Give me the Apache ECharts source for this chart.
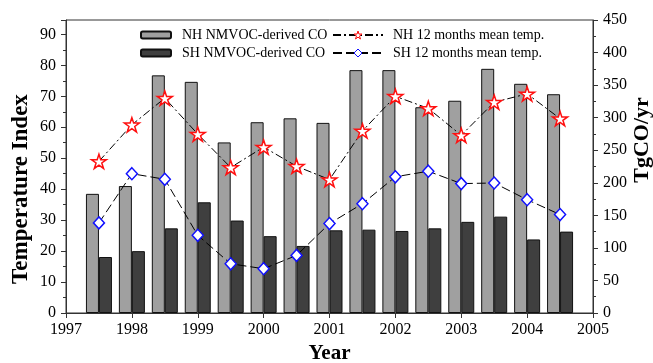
<!DOCTYPE html>
<html>
<head>
<meta charset="utf-8">
<script src="https://cdn.jsdelivr.net/npm/echarts@6/dist/echarts.min.js"></script>
<style>
html,body{margin:0;padding:0;background:#fff;}
#chart{width:653px;height:363px;}
</style>
</head>
<body>
<div id="chart"></div>
<script>
// Data
var years = [1997.5, 1998, 1998.5, 1999, 1999.5, 2000, 2000.5, 2001, 2001.5, 2002, 2002.5, 2003, 2003.5, 2004, 2004.5];
var nhCO = [183, 195, 365, 355, 262, 293, 299, 292, 373, 373, 316, 326, 375, 352, 336];
var shCO = [86, 95, 130, 170, 142, 118, 103, 127, 128, 126, 130, 140, 148, 113, 125];
var nhTemp = [49.0, 60.8, 69.4, 57.8, 47.0, 53.6, 47.4, 43.1, 58.8, 70.0, 66.1, 57.4, 68.1, 70.8, 62.8];
var shTemp = [29.1, 45.0, 43.2, 25.1, 15.9, 14.3, 18.6, 28.9, 35.3, 44.0, 45.8, 41.8, 42.0, 36.6, 31.8];
var seriesNames = ['NH NMVOC-derived CO', 'SH NMVOC-derived CO', 'NH 12 months mean temp.', 'SH 12 months mean temp.'];

function pairs(xs, ys) { return xs.map(function (x, i) { return [x, ys[i]]; }); }

var FONT = '"Liberation Serif", "Times New Roman", serif';
var AX = '#333';
var star = 'path://M50,0 L61.23,34.55 L97.55,34.55 L68.17,55.9 L79.39,90.45 L50,69.1 L20.61,90.45 L31.83,55.9 L2.45,34.55 L38.77,34.55 Z';

var chart = echarts.init(document.getElementById('chart'), null, {renderer: 'canvas'});
chart.setOption({
  animation: false,
  backgroundColor: '#fff',
  textStyle: {fontFamily: FONT},
  grid: {left: 66, right: 60, top: 20, bottom: 50, show: true, borderColor: AX, borderWidth: 1,
    backgroundColor: 'transparent', containLabel: false, outerBoundsMode: 'none'},
  legend: [{
    data: [seriesNames[0], seriesNames[1]],
    orient: 'vertical', left: 140, top: 28, padding: 0,
    itemWidth: 30, itemHeight: 7, itemGap: 4,
    textStyle: {fontFamily: FONT, fontSize: 14, color: '#000', padding: [0, 0, 0, 6]}
  }, {
    data: [
      {name: seriesNames[2], itemStyle: {color: '#fff', borderColor: '#ff1010', borderWidth: 1}},
      {name: seriesNames[3], itemStyle: {color: '#fff', borderColor: '#1010ff', borderWidth: 1}}
    ],
    orient: 'vertical', left: 332, top: 28, padding: 0,
    itemWidth: 50, itemHeight: 10, itemGap: 4,
    textStyle: {fontFamily: FONT, fontSize: 14, color: '#000', padding: [0, 0, 0, 5]}
  }],
  xAxis: {
    type: 'value', min: 1997, max: 2005, interval: 1,
    name: 'Year', nameLocation: 'middle', nameGap: 28,
    nameTextStyle: {fontFamily: FONT, fontSize: 21, fontWeight: 'bold', color: '#000'},
    axisLine: {show: true, lineStyle: {color: AX, width: 1}},
    axisTick: {show: true, length: 5, lineStyle: {color: AX}},
    axisLabel: {fontFamily: FONT, fontSize: 16, color: '#000', margin: 9,
      formatter: function (v) { return String(v); }},
    splitLine: {show: false}
  },
  yAxis: [{
    type: 'value', position: 'left', min: 0, max: 94.65, interval: 10,
    axisLine: {show: true, lineStyle: {color: AX, width: 1}},
    axisTick: {show: true, length: 5, lineStyle: {color: AX}},
    minorTick: {show: true, splitNumber: 2, length: 3, lineStyle: {color: AX}},
    axisLabel: {fontFamily: FONT, fontSize: 16, color: '#000', margin: 10,
      formatter: function (v) { return Math.abs(v % 10) < 1e-6 ? String(v) : ''; }},
    splitLine: {show: false}
  }, {
    type: 'value', position: 'right', min: 0, max: 450, interval: 50,
    axisLine: {show: true, lineStyle: {color: AX, width: 1}},
    axisTick: {show: true, length: 5, lineStyle: {color: AX}},
    minorTick: {show: true, splitNumber: 2, length: 3, lineStyle: {color: AX}},
    axisLabel: {fontFamily: FONT, fontSize: 16, color: '#000', margin: 10},
    splitLine: {show: false}
  }],
  graphic: [{
    type: 'text', x: 21, y: 189, rotation: Math.PI / 2,
    style: {text: 'Temperature Index', font: 'bold 23px ' + FONT, fill: '#000', textAlign: 'center', textVerticalAlign: 'middle'}
  }, {
    type: 'text', x: 642, y: 140, rotation: Math.PI / 2,
    style: {text: 'TgCO/yr', font: 'bold 22px ' + FONT, fill: '#000', textAlign: 'center', textVerticalAlign: 'middle'}
  }],
  series: [{
    name: seriesNames[0], type: 'bar', yAxisIndex: 1, barWidth: 13, barGap: '0%',
    itemStyle: {color: '#a0a0a0', borderColor: '#111', borderWidth: 1},
    data: pairs(years, nhCO), z: 1
  }, {
    name: seriesNames[1], type: 'bar', yAxisIndex: 1, barWidth: 13, barGap: '0%',
    itemStyle: {color: '#3f3f3f', borderColor: '#111', borderWidth: 1},
    data: pairs(years, shCO), z: 1
  }, {
    name: seriesNames[2], type: 'line', yAxisIndex: 0,
    symbol: star, symbolSize: 15, symbolKeepAspect: true,
    lineStyle: {color: '#000', width: 1, type: [8, 3, 2, 3]},
    itemStyle: {color: '#fff', borderColor: '#ff1010', borderWidth: 1.5},
    data: pairs(years, nhTemp), z: 3
  }, {
    name: seriesNames[3], type: 'line', yAxisIndex: 0,
    symbol: 'diamond', symbolSize: [11, 12],
    lineStyle: {color: '#000', width: 1, type: [9, 4]},
    itemStyle: {color: '#fff', borderColor: '#1010ff', borderWidth: 1.5},
    data: pairs(years, shTemp), z: 3
  }]
});
</script>
</body>
</html>
